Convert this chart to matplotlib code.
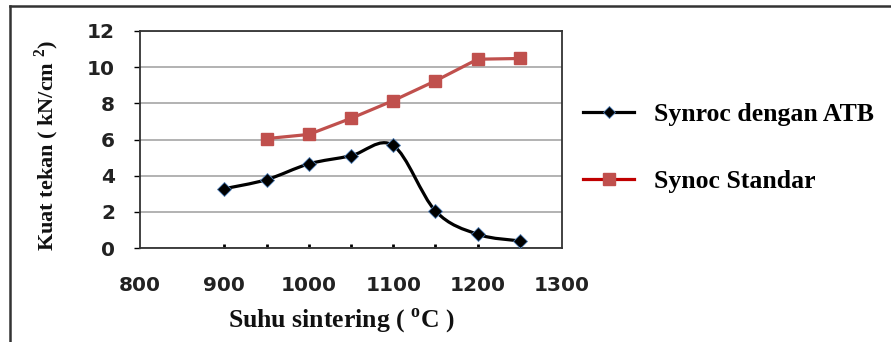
import numpy as np
import matplotlib
matplotlib.use("Agg")
import matplotlib.pyplot as plt
from matplotlib.path import Path
from matplotlib.patches import PathPatch
from matplotlib.lines import Line2D

plt.rcParams['mathtext.fontset'] = 'custom'
plt.rcParams['mathtext.rm'] = 'Liberation Serif'
plt.rcParams['mathtext.bf'] = 'Liberation Serif:bold'

# data
suhu_atb = [900, 950, 1000, 1050, 1100, 1150, 1200, 1250]
kuat_atb = [3.28, 3.78, 4.65, 5.10, 5.67, 2.05, 0.76, 0.39]
suhu_std = [950, 1000, 1050, 1100, 1150, 1200, 1250]
kuat_std = [6.05, 6.28, 7.17, 8.15, 9.24, 10.44, 10.48]
label_atb = 'Synroc dengan ATB'
label_std = 'Synoc Standar'
x_labels = [800, 900, 1000, 1100, 1200, 1300]
y_ticks = [0, 2, 4, 6, 8, 10, 12]


def smooth_path(xs, ys):
    # catmull-rom through the points, as bezier segments
    p = np.column_stack([xs, ys]).astype(float)
    verts = [p[0]]
    codes = [Path.MOVETO]
    n = len(p)
    for i in range(n - 1):
        p0 = p[i - 1] if i > 0 else p[i]
        p3 = p[i + 2] if i + 2 < n else p[i + 1]
        c1 = p[i] + (p[i + 1] - p0) / 6
        c2 = p[i + 1] - (p3 - p[i]) / 6
        verts += [c1, c2, p[i + 1]]
        codes += [Path.CURVE4] * 3
    return Path(verts, codes)


fig = plt.figure(figsize=(8.91, 3.42), dpi=100)
ax = fig.add_axes([140 / 891, 1 - 248 / 342, 422 / 891, 217 / 342])

# black series (smoothed line)
ax.add_patch(PathPatch(smooth_path(suhu_atb, kuat_atb), fill=False,
                       edgecolor='black', lw=2.3, zorder=3))
ax.plot(suhu_atb, kuat_atb, ls='none', marker='D', ms=7, color='black',
        mec='#4f7fb8', mew=0.6, zorder=4)

# red series
ax.plot(suhu_std, kuat_std, color='#c0504d', lw=2.3, marker='s', ms=9,
        zorder=3)

ax.set_xlim(800, 1300)
ax.set_ylim(0, 12)
ax.set_yticks(y_ticks)
ax.yaxis.grid(True, color='#a6a6a6', lw=1.2)
ax.set_axisbelow(True)

ax.xaxis.remove_overlapping_locs = False
ax.set_xticks(suhu_atb)
ax.set_xticklabels([])
ax.tick_params(axis='x', which='major', direction='in', length=3, width=2,
               color='black')
ax.set_xticks(x_labels, minor=True)
ax.set_xticklabels([str(v) for v in x_labels], minor=True)
ax.tick_params(axis='x', which='minor', length=0, pad=20, labelsize=14.5,
               labelcolor='#222222')
for t in ax.get_xticklabels(minor=True):
    t.set_fontweight('bold')
ax.tick_params(axis='y', direction='out', length=4, width=1, pad=14,
               labelsize=14.5, labelcolor='#222222')
for t in ax.get_yticklabels():
    t.set_fontweight('bold')

for s in ax.spines.values():
    s.set_color('#333333')
    s.set_linewidth(1.3)

fig.text(341 / 891, 1 - 321 / 342, 'Suhu sintering ( $^{\\mathbf{o}}$C )',
         family='Liberation Serif', weight='bold', fontsize=18.5,
         color='#111111', ha='center', va='center')
fig.text(47 / 891, 1 - 145 / 342, 'Kuat tekan ( kN/cm $^{\\mathbf{2}}$)',
         family='Liberation Serif', weight='bold', fontsize=16,
         color='#111111', ha='center', va='center', rotation=90)

# legend
h_atb = Line2D([], [], color='black', lw=2.3, marker='D', ms=6,
               mec='#4f7fb8', mew=0.6)
h_std = Line2D([], [], color='#c00000', lw=2.3, marker='s', ms=9,
               mfc='#c0504d', mec='#c0504d')
fig.legend([h_atb, h_std], [label_atb, label_std],
           loc='center left', bbox_to_anchor=(570 / 891, 1 - 148 / 342),
           frameon=False, handlelength=2.0, handletextpad=0.75,
           labelspacing=1.72, borderpad=0,
           prop={'family': 'Liberation Serif', 'weight': 'bold', 'size': 18.5})

# outer frame (top and left edges)
fig.add_artist(Line2D([10 / 891, 1], [1 - 6 / 342, 1 - 6 / 342],
                      color='#333333', lw=1.8, transform=fig.transFigure))
fig.add_artist(Line2D([10 / 891, 10 / 891], [0, 1 - 6 / 342],
                      color='#333333', lw=1.8, transform=fig.transFigure))

fig.savefig('out.png', dpi=100)
